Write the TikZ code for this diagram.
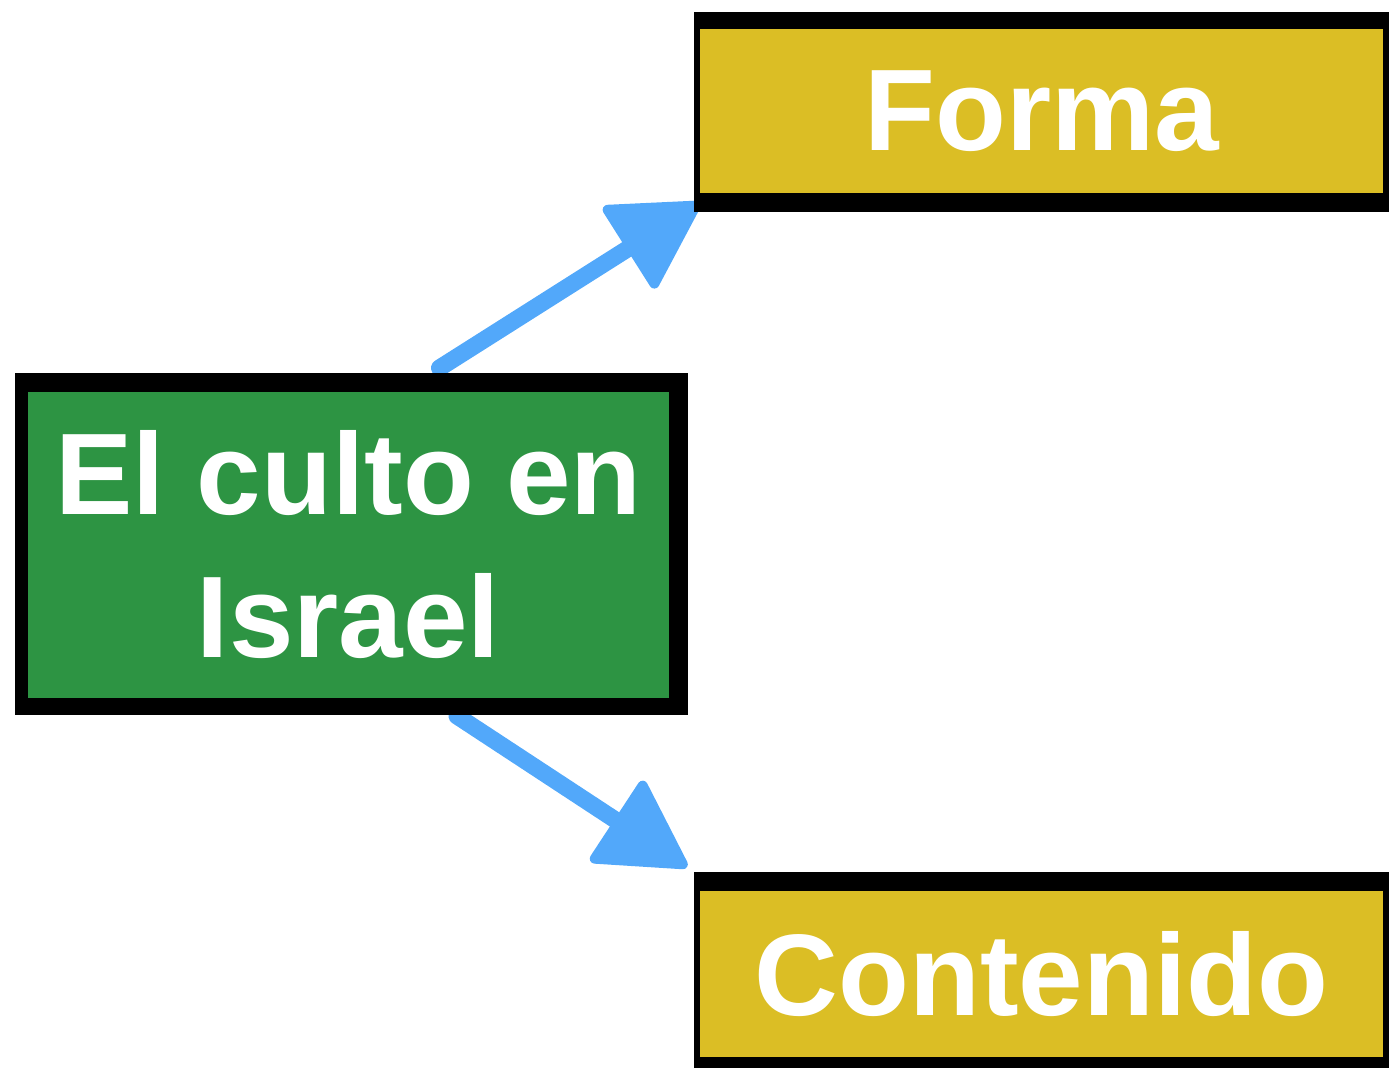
\documentclass[tikz,border=0pt]{standalone}
\usepackage{fontspec}
\setmainfont{Liberation Sans}
\usetikzlibrary{arrows.meta}
\definecolor{boxgreen}{RGB}{45,148,67}
\definecolor{boxyellow}{RGB}{219,190,37}
\definecolor{arrowblue}{RGB}{82,168,250}
\pgfdeclarelayer{bg}
\pgfsetlayers{bg,main}
\begin{document}
\begin{tikzpicture}[x=0.5pt,y=-0.5pt,
  frame/.style={fill=black, inner sep=0pt, outer sep=0pt},
  face/.style={inner sep=0pt, outer sep=0pt, text=white,
    font=\fontsize{58pt}{71.5pt}\selectfont\bfseries, align=center},
  link/.style={draw=arrowblue, line width=8.5pt, line cap=round,
    -{Triangle[length=46pt,width=51pt,round,line width=5pt]}}]
\useasboundingbox (0,0) rectangle (1389,1068);
% central box
\node[frame, minimum width=336.5pt, minimum height=171pt] (cultoframe) at (351.5,544) {};
\node[face, fill=boxgreen, minimum width=320.5pt, minimum height=153pt] (culto) at (348.5,545) {El culto en\\Israel};
% Forma
\node[frame, minimum width=348pt, minimum height=100pt] (formaframe) at (1042,112) {};
\node[face, fill=boxyellow, minimum width=341.5pt, minimum height=82pt] (forma) at (1041.5,111) {Forma};
% Contenido
\node[frame, minimum width=348pt, minimum height=99pt] (contframe) at (1042,971) {};
\node[face, fill=boxyellow, minimum width=341.5pt, minimum height=83pt] (cont) at (1041.5,974) {Contenido};
% arrows
\begin{pgfonlayer}{bg}
\draw[link] ([xshift=44pt,yshift=2.5pt]cultoframe.north) -- ([xshift=3pt,yshift=4.5pt]formaframe.south west);
\draw[link] ([xshift=52.75pt,yshift=-0.5pt]cultoframe.south) -- ([xshift=-3.5pt,yshift=2.5pt]contframe.north west);
\end{pgfonlayer}
\end{tikzpicture}
\end{document}
